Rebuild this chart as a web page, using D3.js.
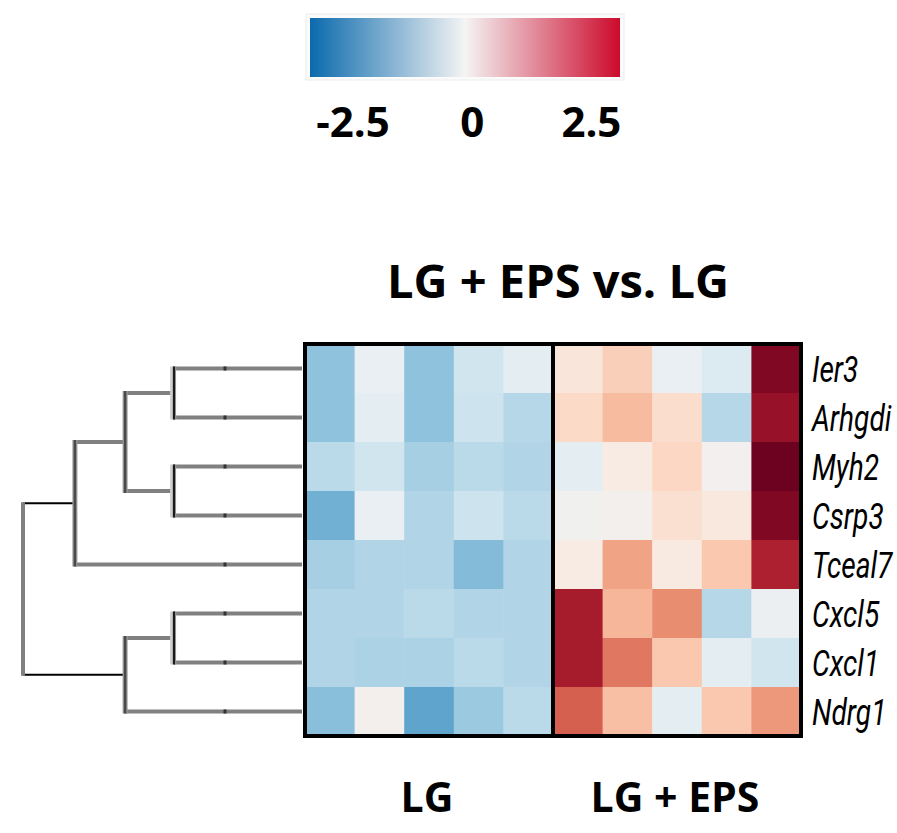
<!DOCTYPE html>
<html>
<head>
<meta charset="utf-8">
<script src="https://cdn.jsdelivr.net/npm/d3@7"></script>
<style>
  html, body { margin: 0; padding: 0; background: #fff; }
  svg { display: block; }
</style>
</head>
<body>
<svg id="chart" width="897" height="833"></svg>
<script>
// Genes (rows, in dendrogram order) and samples (columns)
const genes = ["Ier3", "Arhgdi", "Myh2", "Csrp3", "Tceal7", "Cxcl5", "Cxcl1", "Ndrg1"];
const samples = ["LG1", "LG2", "LG3", "LG4", "LG5", "EPS1", "EPS2", "EPS3", "EPS4", "EPS5"];
const groups = ["LG", "LG + EPS"];
const sampleGroup = ["LG", "LG", "LG", "LG", "LG", "LG + EPS", "LG + EPS", "LG + EPS", "LG + EPS", "LG + EPS"];

// Row-scaled expression (z-scores), one array per gene
const Ier3   = [-1.20, -0.20, -1.20, -0.55, -0.30,  0.35,  0.70,  -0.20, -0.40,  2.80];
const Arhgdi = [-1.20, -0.30, -1.20, -0.60, -0.85,  0.55,  0.95,   0.50, -0.85,  2.60];
const Myh2   = [-0.80, -0.55, -1.00, -0.80, -0.90, -0.30,  0.20,   0.60,  0.00,  2.95];
const Csrp3  = [-1.45, -0.20, -0.90, -0.60, -0.80, -0.05,  0.05,   0.45,  0.30,  2.80];
const Tceal7 = [-1.00, -0.90, -0.90, -1.30, -0.90,  0.20,  1.20,   0.25,  0.80,  2.40];
const Cxcl5  = [-0.90, -0.90, -0.80, -0.90, -0.90,  2.45,  1.00,   1.40, -0.85, -0.15];
const Cxcl1  = [-0.90, -0.95, -0.95, -0.80, -0.90,  2.45,  1.60,   0.80, -0.30, -0.55];
const Ndrg1  = [-1.25,  0.05, -1.60, -1.10, -0.80,  1.80,  0.90,  -0.30,  0.80,  1.30];
const rows = [Ier3, Arhgdi, Myh2, Csrp3, Tceal7, Cxcl5, Cxcl1, Ndrg1];

// Hierarchical clustering of genes: [id, left child, right child, merge height]
const merges = [
  ["c1", "Ier3", "Arhgdi", 4.62],
  ["c2", "Myh2", "Csrp3", 4.62],
  ["c3", "Cxcl5", "Cxcl1", 4.62],
  ["c4", "c1", "c2", 6.34],
  ["c5", "c3", "Ndrg1", 6.34],
  ["c6", "c4", "Tceal7", 8.14],
  ["root", "c6", "c5", 10.0]
];
const maxHeight = 10.0;
const leafTickHeight = 2.76;

// Colour legend
const legendTicks = [-2.5, 0, 2.5];
const legendDomain = [-3.4, 3.1];
const legendColors = ["#0b6aad", "#f4f4f4", "#cc0a2c"];
const colorLimit = 3.0;

const svg = d3.select("#chart");

// ---------- colour legend ----------
const legendX = d3.scaleLinear().domain(legendDomain).range([310, 620]);
const defs = svg.append("defs");
const grad = defs.append("linearGradient").attr("id", "legendGrad")
  .attr("x1", "0%").attr("x2", "100%").attr("y1", "0%").attr("y2", "0%");
legendColors.forEach((c, i) => {
  grad.append("stop").attr("offset", (i / (legendColors.length - 1) * 100) + "%").attr("stop-color", c);
});
svg.append("rect")
  .attr("x", legendX.range()[0] - 4).attr("y", 14)
  .attr("width", legendX.range()[1] - legendX.range()[0] + 8).attr("height", 66)
  .attr("fill", "#fbfbfb").attr("stroke", "#ececec").attr("stroke-width", 1);
svg.append("rect")
  .attr("x", legendX.range()[0]).attr("y", 18)
  .attr("width", legendX.range()[1] - legendX.range()[0]).attr("height", 59)
  .attr("fill", "url(#legendGrad)");
svg.append("g").selectAll("text").data(legendTicks).join("text")
  .attr("x", d => legendX(d)).attr("y", 137)
  .attr("text-anchor", "middle")
  .attr("font-family", "'Open Sans', sans-serif").attr("font-weight", 700)
  .attr("font-size", 42).attr("fill", "#000")
  .text(d => d === 0 ? "0" : (d < 0 ? "-" : "") + Math.abs(d).toFixed(1));

// ---------- heatmap ----------
const x = d3.scaleBand().domain(samples).range([305, 801]);
const y = d3.scaleBand().domain(genes).range([344, 736]);
const color = v => d3.interpolateRdBu(0.5 - v / (2 * colorLimit));

const cells = [];
rows.forEach((vals, i) => vals.forEach((v, j) => cells.push({ gene: genes[i], sample: samples[j], value: v })));

svg.append("g").selectAll("rect").data(cells).join("rect")
  .attr("x", d => x(d.sample)).attr("y", d => y(d.gene))
  .attr("width", x.bandwidth() + 0.5).attr("height", y.bandwidth() + 0.5)
  .attr("fill", d => color(d.value));

// group frames
const groupExtent = groups.map(g => {
  const cols = samples.filter((s, i) => sampleGroup[i] === g);
  return { group: g, x0: x(cols[0]), x1: x(cols[cols.length - 1]) + x.bandwidth() };
});
svg.append("g").selectAll("rect").data(groupExtent).join("rect")
  .attr("x", d => d.x0).attr("y", y.range()[0])
  .attr("width", d => d.x1 - d.x0).attr("height", y.range()[1] - y.range()[0])
  .attr("fill", "none").attr("stroke", "#000").attr("stroke-width", 4);

// title
svg.append("text")
  .attr("x", (x.range()[0] + x.range()[1]) / 2 + 5).attr("y", 298)
  .attr("text-anchor", "middle")
  .attr("font-family", "'Open Sans', sans-serif").attr("font-weight", 700)
  .attr("font-size", 47).attr("fill", "#000")
  .text("LG + EPS vs. LG");

// group labels below
svg.append("g").selectAll("text").data(groupExtent).join("text")
  .attr("x", d => (d.x0 + d.x1) / 2 - 2).attr("y", 812)
  .attr("text-anchor", "middle")
  .attr("font-family", "'Open Sans', sans-serif").attr("font-weight", 700)
  .attr("font-size", 41).attr("fill", "#000")
  .text(d => d.group);

// gene labels (condensed italic)
const labelX = 812;
const labelG = svg.append("g")
  .attr("transform", `translate(${labelX},0) scale(0.76,1)`);
labelG.selectAll("text").data(genes).join("text")
  .attr("x", 0).attr("y", d => y(d) + y.bandwidth() / 2)
  .attr("dy", "0.36em")
  .attr("font-family", "Roboto, 'Noto Sans', sans-serif")
  .attr("font-style", "italic")
  .attr("font-size", 37).attr("fill", "#000")
  .text(d => d);

// ---------- dendrogram ----------
const hx = d3.scaleLinear().domain([0, maxHeight]).range([302, 23]);
const nodes = {};
genes.forEach(g => { nodes[g] = { id: g, height: 0, y: y(g) + y.bandwidth() / 2, leaf: true }; });
merges.forEach(([id, a, b, h]) => {
  nodes[id] = { id, height: h, left: nodes[a], right: nodes[b], y: (nodes[a].y + nodes[b].y) / 2 };
});
const root = nodes["root"];
const internal = merges.map(m => nodes[m[0]]);

const dg = svg.append("g").attr("fill", "none").attr("stroke-linecap", "butt");

// horizontal links from each node to its children
internal.forEach(n => {
  [n.left, n.right].forEach(c => {
    dg.append("line")
      .attr("x1", hx(n.height)).attr("x2", hx(c.height))
      .attr("y1", c.y).attr("y2", c.y)
      .attr("stroke", n === root ? "#000" : "#808080")
      .attr("stroke-width", n === root ? 2.2 : 4);
  });
});

// vertical links
internal.forEach(n => {
  const x0 = hx(n.height);
  if (n === root) {
    dg.append("line").attr("x1", x0).attr("x2", x0)
      .attr("y1", n.left.y - 1).attr("y2", n.right.y + 1)
      .attr("stroke", "#808080").attr("stroke-width", 4);
    return;
  }
  const lowest = n.left.leaf && n.right.leaf;
  dg.append("line").attr("x1", x0).attr("x2", x0)
    .attr("y1", n.left.y - 2).attr("y2", n.right.y + 2)
    .attr("stroke", lowest ? "#cfcfcf" : "#9a9a9a").attr("stroke-width", lowest ? 6 : 5);
  dg.append("line").attr("x1", x0 + (lowest ? 1 : 0)).attr("x2", x0 + (lowest ? 1 : 0))
    .attr("y1", n.left.y - 2).attr("y2", n.right.y + 2)
    .attr("stroke", lowest ? "#1a1a1a" : "#4a4a4a").attr("stroke-width", 2.5);
});

// small marks on the leaf branches
dg.selectAll("line.leafTick").data(genes).join("line")
  .attr("class", "leafTick")
  .attr("x1", hx(leafTickHeight)).attr("x2", hx(leafTickHeight))
  .attr("y1", d => nodes[d].y - 2).attr("y2", d => nodes[d].y + 2)
  .attr("stroke", "#333").attr("stroke-width", 3);
</script>
</body>
</html>
